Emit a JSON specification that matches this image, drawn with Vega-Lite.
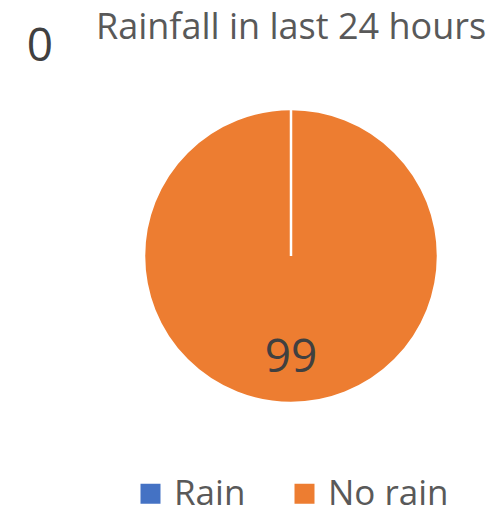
{
  "$schema": "https://vega.github.io/schema/vega-lite/v6.json",
  "autosize": {"type": "none"},
  "width": 294,
  "height": 294,
  "padding": {"left": 144, "top": 109, "right": 65, "bottom": 111},
  "background": "white",
  "title": {
    "text": "Rainfall in last 24 hours",
    "font": "Open Sans",
    "fontSize": 36,
    "fontWeight": "normal",
    "color": "#595959",
    "anchor": "middle",
    "offset": -23
  },
  "data": {
    "values": [
      {"category": "No rain", "value": 99},
      {"category": "Rain", "value": 0}
    ]
  },
  "config": {"view": {"stroke": null}},
  "layer": [
    {
      "mark": {"type": "arc", "stroke": "white", "strokeWidth": 2.5, "outerRadius": 147},
      "encoding": {
        "theta": {"field": "value", "type": "quantitative", "stack": true},
        "color": {
          "field": "category",
          "type": "nominal",
          "scale": {"domain": ["Rain", "No rain"], "range": ["#4472C4", "#ED7D31"]},
          "legend": {
            "title": null,
            "orient": "none",
            "direction": "horizontal",
            "legendX": -11,
            "legendY": 367,
            "symbolType": "square",
            "symbolSize": 400,
            "symbolStrokeWidth": 0,
            "labelFont": "Open Sans",
            "labelFontSize": 35,
            "labelColor": "#595959",
            "labelOffset": 6,
            "columnPadding": 41
          }
        }
      }
    },
    {
      "transform": [{"filter": "datum.category === 'No rain'"}],
      "mark": {"type": "text", "radius": 102, "font": "Open Sans", "fontSize": 46, "color": "#404040", "baseline": "middle", "align": "center"},
      "encoding": {
        "theta": {"field": "value", "type": "quantitative", "stack": true},
        "text": {"field": "value", "type": "quantitative"}
      }
    },
    {
      "transform": [{"filter": "datum.category === 'Rain'"}],
      "mark": {"type": "text", "radius": 0, "dx": -251, "dy": -209, "font": "Open Sans", "fontSize": 46, "color": "#404040", "baseline": "middle", "align": "center"},
      "encoding": {
        "theta": {"field": "value", "type": "quantitative", "stack": true},
        "text": {"field": "value", "type": "quantitative"}
      }
    }
  ]
}
